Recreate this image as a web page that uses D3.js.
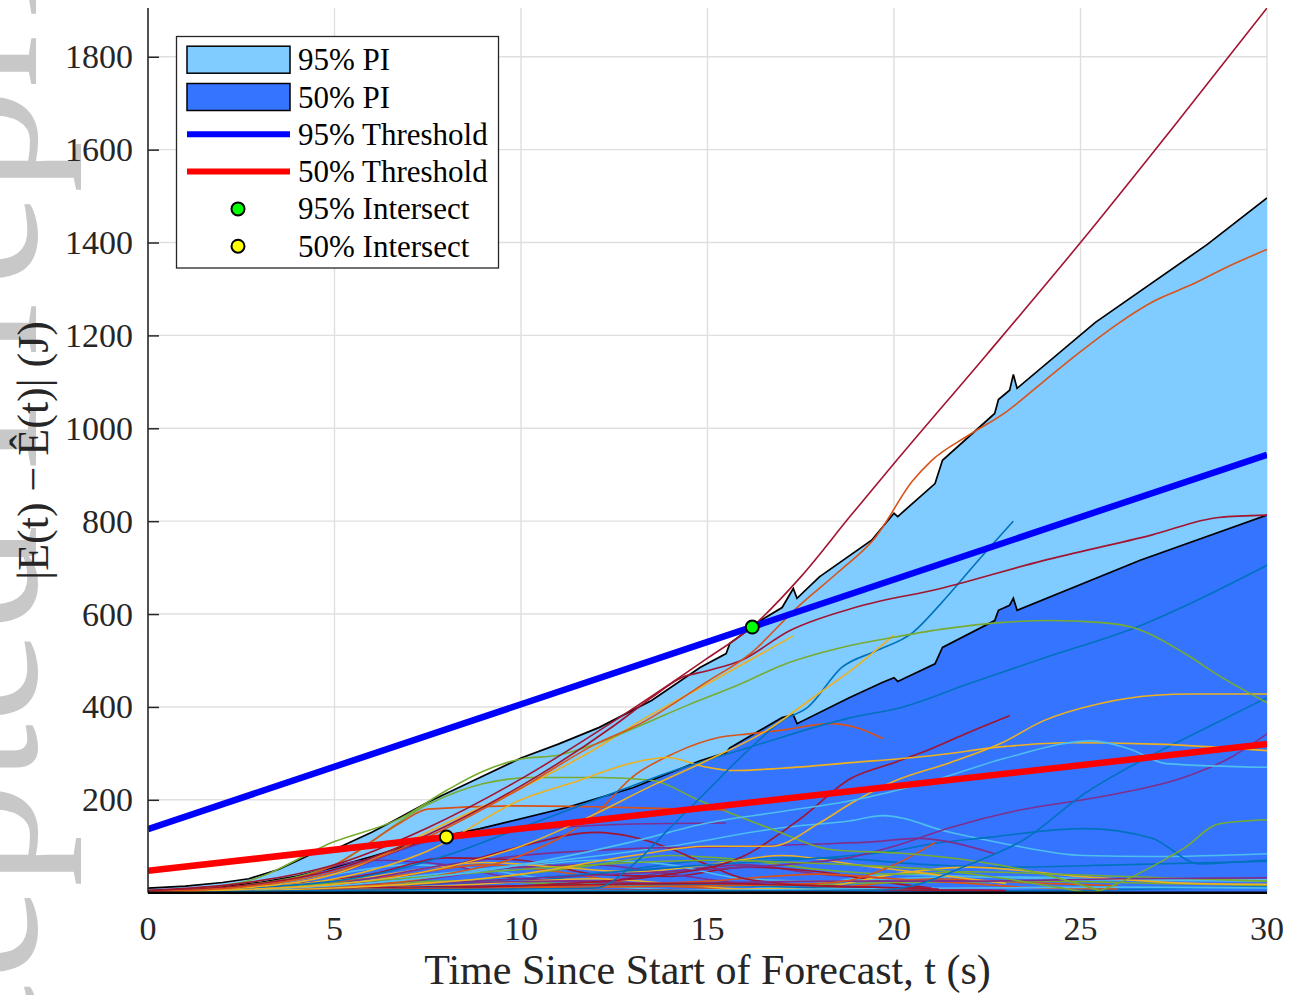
<!DOCTYPE html>
<html>
<head>
<meta charset="utf-8">
<script src="https://cdn.jsdelivr.net/npm/d3@7"></script>
<style>
  body { margin: 0; background: #fff; }
  svg { display: block; }
  text { font-family: "Liberation Serif", "Times New Roman", serif; fill: #262626; }
</style>
</head>
<body>
<script>
// ---- data ----
var xTicks = [0, 5, 10, 15, 20, 25, 30];
var yTicks = [200, 400, 600, 800, 1000, 1200, 1400, 1600, 1800];

// upper edge of the 95% prediction interval [t, J]
var pi95Upper = [[0,10],[1,14],[2,22],[2.7,30],[3.5,50],[4.4,84],[5.1,97],[6,130],[6.7,160],[7.5,195],
  [8.9,248],[10,290],[11,320],[12.1,356],[13.5,414],[14.8,485],[15.5,515],[15.6,537],[16.5,590],
  [17,614],[17.3,655],[17.4,634],[18,680],[19.4,759],[20,817],[20.1,810],[21.1,881],[21.3,931],
  [22.7,1032],[22.8,1062],[23.1,1082],[23.2,1116],[23.3,1086],[25.4,1228],[28.4,1396],[30,1496]];
// upper edge of the 50% prediction interval [t, J]
var pi50Upper = [[0,3],[1,6],[2,12],[3,22],[4,36],[5,55],[6,78],[6.8,97],[8,123],[8.9,138],[11.2,183],
  [13,226],[14.8,284],[15.5,302],[15.6,312],[17,377],[17.3,383],[17.4,364],[18.8,420],[19.7,453],
  [20,463],[20.1,455],[21.1,493],[21.3,528],[22.7,586],[22.8,608],[23.1,619],[23.2,634],[23.3,608],
  [26.6,716],[30,813]];

var threshold95 = [[0,137],[30,943]];
var threshold50 = [[0,47],[30,320]];
var intersect95 = [[16.2,572]];
var intersect50 = [[8.0,120]];

// MATLAB default colour order
var C1 = "#0072BD", C2 = "#D95319", C3 = "#EDB120", C4 = "#7E2F8E", C5 = "#77AC30", C6 = "#4DBEEE", C7 = "#A2142F";

// individual forecast error runs [t, J]
var run01 = [[0,5],[2.5,20],[5,60],[7.5,140],[10,245],[12.5,370],[15,505],[16.2,573],[17.5,680],[18.84,812],[20,924],[22.5,1160],[25,1400],[27.5,1650],[30,1905]];
var run02 = [[0,2],[2.5,12],[5,45],[7.5,120],[10,225],[12,320],[13.2,364],[15,455],[16.15,515],[17.4,614],[18.5,690],[19.5,765],[20.5,887],[21,930],[22,985],[23,1035],[24,1100],[25,1165],[26,1225],[27,1275],[28,1310],[29,1350],[30,1385]];
var run03 = [[0,4],[2.5,15],[5,50],[7.5,125],[10,230],[12.5,360],[13.5,420],[14.3,463],[15,478],[15.9,500],[17.2,564],[19,615],[21.25,655],[24,715],[26.9,770],[28.7,808],[30,813]];
var run04 = [[0,3],[2.5,22],[5,110],[6.76,160],[8,220],[9,262],[10,288],[11,296],[12,320],[13.2,360],[14.5,405],[15.9,450],[17,490],[18.6,528],[20,550],[21.25,567],[22.9,582],[24.2,586],[25.5,582],[26.4,571],[27.8,515],[28.7,468],[30,409]];
var run05 = [[0,2],[2.5,10],[5,40],[8,150],[10,225],[12,310],[13.2,370],[15,450],[17.3,553]];
var run06 = [[0,1],[5,18],[8,55],[10,100],[12,170],[13.5,230],[15,285],[16.6,350],[18,430],[18.84,478],[20,555]];
var run07 = [[0,1],[5,5],[10,8],[12,10],[13,60],[14,140],[15,220],[16,300],[17,370],[17.7,400],[18.6,485],[19.5,520],[20.5,560],[21.25,622],[22.2,710],[23.2,800]];
var run08 = [[0,2],[5,25],[8,80],[10,140],[12,200],[14,260],[16,310],[18.84,377],[20.2,399],[22,450],[24,505],[26.6,575],[28,625],[30,705]];
var run09 = [[0,1],[10,3],[15,4],[19.5,5],[20.5,15],[22,60],[23.5,115],[25.1,213],[27,300],[28.5,360],[30,420]];
var run10 = [[0,1],[5,10],[10,40],[13,80],[15,100],[16.7,100],[18,150],[18.84,192],[20,240],[21.5,280],[22.9,323],[24,370],[25.5,407],[27,425],[28,428],[30,428]];
var run11 = [[0,2],[2.5,8],[5,30],[7.5,90],[10,200],[11.5,240],[13,280],[13.9,291],[15,270],[15.7,263],[17,268],[18.84,280],[21,295],[23,315],[24.65,323],[27,320],[30,306]];
var run12 = [[0,1],[5,15],[10,60],[13,110],[15,150],[17,175],[18.84,198],[21,240],[23,290],[25.3,327],[26.3,310],[27.3,278],[30,270]];
var run13 = [[0,1],[5,20],[10,60],[14,100],[17,140],[18.84,155],[19.7,166],[21.5,130],[23,105],[25.1,80],[27,78],[30,84]];
var run14 = [[0,1],[5,10],[10,30],[15,60],[18.84,80],[20,90],[21,105],[22.4,118],[25.1,138],[26.9,118],[28.2,62],[29,65],[30,70]];
var run15 = [[0,1],[5,10],[10,30],[15,50],[17,60],[18.84,76],[20,100],[21.5,140],[23.3,177],[25.5,206],[27.8,249],[29,290],[30,342]];
var run16 = [[0,2],[5,20],[8,60],[10,80],[13,95],[16,100],[18,105],[19.5,110],[20.6,117],[22.7,84]];
var run17 = [[0,1],[5,5],[10,15],[14,40],[16,80],[17.5,160],[18.84,246],[20,280],[21,310],[22,345],[23.1,381]];
var run18 = [[0,1],[5,10],[8,40],[10,80],[12,170],[13,250],[14.1,300],[15.3,334],[16.1,342],[17,350],[18.3,364],[19,355],[19.7,332]];
var run19 = [[0,1],[10,10],[15,15],[18,20],[19,30],[20,60],[21.1,108]];
var run20 = [[0,2],[5,10],[10,15],[15,20],[18,15],[21.2,8]];
var run21 = [[0,2],[5,20],[10,50],[15,70],[18.84,60],[21,50],[23,30],[24.5,10],[25.3,1],[26,20],[27,60],[27.8,97],[28.7,148],[30,157]];
var run22 = [[0,2],[2.5,15],[5,60],[7.5,190],[9,235],[10.3,248],[12.1,248],[13.5,242],[14.8,198],[16.6,141],[18.4,92],[20.2,85],[22,70],[24,40],[25.5,5]];
var run23 = [[0,1],[2.5,10],[5,60],[6.76,150],[7.5,180],[10,187],[12,185],[13.9,181],[15.5,178]];
var run24 = [[0,1],[2.5,8],[5,40],[7.5,110],[9,125],[11,140],[13,148],[15.5,150]];
var run25 = [[0,3],[2.5,10],[5,40],[7,60],[9,50],[11,25],[13,10],[15,5],[18,20],[20,40],[22,35],[25,28],[30,25]];
var run26 = [[0,2],[3,12],[6,30],[9,20],[12,40],[15,70],[18,75],[21,60],[23,55],[26,60],[30,68]];
var run27 = [[0,4],[3,15],[6,70],[8,60],[10,30],[12,25],[14,45],[16,60],[18,40],[20,30],[22,25]];
var run28 = [[0,3],[3,12],[6,40],[8,75],[10,70],[12,40],[14,35],[16,55],[18,45],[20,20],[21,10]];
var run29 = [[0,2],[4,15],[7,40],[9,60],[11,45],[13,20],[15,10],[17,5],[19,15],[21,30],[24,20],[26,15]];
var run30 = [[0,1],[4,10],[8,25],[12,18],[16,15],[20,22],[24,25],[27,20],[30,15]];
var run31 = [[0,2],[3,8],[6,20],[9,45],[12,70],[14,60],[16,30],[18,25],[22,35],[26,30],[30,28]];
var run32 = [[0,1],[4,5],[8,15],[12,30],[14,20],[16,8],[18,12],[20,40],[22,55],[25,35],[28,20],[30,18]];
var run33 = [[0,1],[5,6],[9,12],[13,18],[16,15],[19,8],[22,3],[25,5],[28,10],[30,12]];
var run34 = [[0,2],[4,10],[7,25],[10,55],[12,60],[14,40],[16,20],[18,15],[20,10],[23,5]];
var run35 = [[0,1],[5,4],[10,8],[14,5],[17,3],[20,6],[23,4]];
var run36 = [[0,1],[3,5],[6,15],[9,30],[12,60],[14,80],[16,70],[18,50],[20,40],[22,45],[25,38],[28,30],[30,25]];
var run37 = [[0,1],[5,5],[10,12],[15,25],[18,40],[20,30],[22,20],[24,10],[26,8]];
var run38 = [[0,1],[6,4],[10,6],[14,4],[18,8],[22,10],[26,12],[30,10]];
var run39 = [[0,2],[3,12],[6,35],[9,65],[11,55],[13,45],[15,60],[17,80],[19,60],[21,40],[23,20]];
var run40 = [[0,2],[3,8],[6,25],[8,55],[10,100],[12,130],[13,120],[14,95],[15,60],[16,30],[18,15],[21,10]];
var run41 = [[0,1],[4,6],[8,20],[11,25],[14,20],[18,25],[22,25],[26,30],[30,32]];

var runs = [
  [run25, C6], [run26, C1], [run27, C4], [run28, C7], [run29, C2], [run30, C5], [run31, C6],
  [run32, C3], [run33, C1], [run34, C4], [run35, C7], [run36, C5], [run37, C2], [run38, C6],
  [run39, C3], [run40, C7], [run41, C4],
  [run13, C6], [run14, C1], [run15, C4], [run16, C4], [run17, C7], [run18, C2], [run19, C2],
  [run20, C7], [run21, C5], [run22, C5], [run23, C2], [run24, C4],
  [run09, C1], [run10, C3], [run11, C3], [run12, C6], [run08, C1], [run07, C1], [run06, C3],
  [run05, C3], [run04, C5], [run03, C7], [run02, C2], [run01, C7]
];

var legendLabels = ["95% PI", "50% PI", "95% Threshold", "50% Threshold", "95% Intersect", "50% Intersect"];

// ---- layout ----
var width = 1300, height = 995;
var padL = 148, padR = 1267, padT = 8, padB = 892.7;

var svg = d3.select("body").append("svg")
    .attr("width", width).attr("height", height);

var x = d3.scaleLinear().domain([0, 30]).range([padL, padR]);
var y = d3.scaleLinear().domain([0, 1905]).range([padB, padT]);

// watermark running up the left edge (mostly off the page)
svg.append("text")
    .attr("transform", "translate(36," + (height / 2 + 60) + ") rotate(-90)")
    .attr("text-anchor", "middle")
    .style("font-size", "210px")
    .style("fill", "#c8c8c8")
    .text("Accepted Preprint");

// grid
var grid = svg.append("g");
grid.selectAll(".gx").data(xTicks.slice(1)).enter().append("line")
    .attr("x1", function(d) { return x(d); }).attr("x2", function(d) { return x(d); })
    .attr("y1", padT).attr("y2", padB)
    .attr("stroke", "#dfdfdf").attr("stroke-width", 1.4);
grid.selectAll(".gy").data(yTicks).enter().append("line")
    .attr("x1", padL).attr("x2", padR)
    .attr("y1", function(d) { return y(d); }).attr("y2", function(d) { return y(d); })
    .attr("stroke", "#dfdfdf").attr("stroke-width", 1.4);

// axes (tick marks point inwards, MATLAB style)
var yAxis = d3.axisRight(y).tickValues(yTicks).tickSize(11).tickFormat("");
svg.append("g").attr("transform", "translate(" + padL + ",0)").call(yAxis)
    .call(function(g) { g.select(".domain").remove(); })
    .selectAll("line").attr("stroke", "#262626").attr("stroke-width", 1.5);

svg.append("g").selectAll("text").data(yTicks).enter().append("text")
    .attr("x", 133).attr("y", function(d) { return y(d) + 11.5; })
    .attr("text-anchor", "end")
    .style("font-size", "34px")
    .text(function(d) { return d; });

svg.append("g").selectAll("text").data(xTicks).enter().append("text")
    .attr("x", function(d) { return x(d); }).attr("y", 940)
    .attr("text-anchor", "middle")
    .style("font-size", "34px")
    .text(function(d) { return d; });

// prediction interval bands
svg.append("clipPath").attr("id", "plotclip").append("rect")
    .attr("x", padL).attr("y", padT).attr("width", padR - padL).attr("height", padB - padT);

var plot = svg.append("g").attr("clip-path", "url(#plotclip)");

var band = d3.area()
    .x(function(d) { return x(d[0]); })
    .y0(y(0))
    .y1(function(d) { return y(d[1]); });
var edge = d3.line()
    .x(function(d) { return x(d[0]); })
    .y(function(d) { return y(d[1]); });

plot.append("path").datum(pi95Upper).attr("d", band).attr("fill", "#80CBFF");
plot.append("path").datum(pi50Upper).attr("d", band).attr("fill", "#3574FF");
plot.append("path").datum(pi95Upper).attr("d", edge).attr("fill", "none").attr("stroke", "#000").attr("stroke-width", 1.7);
plot.append("path").datum(pi50Upper).attr("d", edge).attr("fill", "none").attr("stroke", "#000").attr("stroke-width", 1.7);

// individual runs
var smooth = d3.line()
    .curve(d3.curveMonotoneX)
    .x(function(d) { return x(d[0]); })
    .y(function(d) { return y(d[1]); });

plot.selectAll(".run").data(runs).enter().append("path")
    .attr("class", "run")
    .attr("d", function(d) { return smooth(d[0]); })
    .attr("fill", "none")
    .attr("stroke", function(d) { return d[1]; })
    .attr("stroke-width", 1.6);

// thresholds
plot.append("path").datum(threshold95).attr("d", edge).attr("fill", "none").attr("stroke", "#0000FF").attr("stroke-width", 6.5);
plot.append("path").datum(threshold50).attr("d", edge).attr("fill", "none").attr("stroke", "#FF0000").attr("stroke-width", 6.5);

// axis lines
svg.append("line").attr("x1", padL).attr("x2", padL).attr("y1", padT).attr("y2", padB)
    .attr("stroke", "#262626").attr("stroke-width", 1.6);
svg.append("line").attr("x1", padL).attr("x2", padR).attr("y1", padB).attr("y2", padB)
    .attr("stroke", "#000").attr("stroke-width", 2.6);

// intersections
svg.selectAll(".i95").data(intersect95).enter().append("circle")
    .attr("cx", function(d) { return x(d[0]); }).attr("cy", function(d) { return y(d[1]); })
    .attr("r", 6.5).attr("fill", "#00FF00").attr("stroke", "#000").attr("stroke-width", 2);
svg.selectAll(".i50").data(intersect50).enter().append("circle")
    .attr("cx", function(d) { return x(d[0]); }).attr("cy", function(d) { return y(d[1]); })
    .attr("r", 6.5).attr("fill", "#FFFF00").attr("stroke", "#000").attr("stroke-width", 2);

// axis labels
svg.append("text")
    .attr("x", (padL + padR) / 2).attr("y", 984)
    .attr("text-anchor", "middle")
    .style("font-size", "42px")
    .text("Time Since Start of Forecast, t (s)");

svg.append("text")
    .attr("transform", "translate(48," + ((padT + padB) / 2) + ") rotate(-90)")
    .attr("text-anchor", "middle")
    .style("font-size", "44px")
    .text("|E(t) \u2212 \u00CA(t)| (J)");

// legend
var lg = svg.append("g");
lg.append("rect").attr("x", 176.5).attr("y", 36.5).attr("width", 322).attr("height", 231.5)
    .attr("fill", "#fff").attr("stroke", "#262626").attr("stroke-width", 1.3);

var rowY = function(i) { return 59.7 + i * 37.3; };

lg.append("rect").attr("x", 187).attr("y", rowY(0) - 13.5).attr("width", 103).attr("height", 27)
    .attr("fill", "#80CBFF").attr("stroke", "#000").attr("stroke-width", 1.5);
lg.append("rect").attr("x", 187).attr("y", rowY(1) - 13.5).attr("width", 103).attr("height", 27)
    .attr("fill", "#3574FF").attr("stroke", "#000").attr("stroke-width", 1.5);
lg.append("line").attr("x1", 187).attr("x2", 290).attr("y1", rowY(2)).attr("y2", rowY(2))
    .attr("stroke", "#0000FF").attr("stroke-width", 6);
lg.append("line").attr("x1", 187).attr("x2", 290).attr("y1", rowY(3)).attr("y2", rowY(3))
    .attr("stroke", "#FF0000").attr("stroke-width", 6);
lg.append("circle").attr("cx", 238).attr("cy", rowY(4)).attr("r", 6.5)
    .attr("fill", "#00FF00").attr("stroke", "#000").attr("stroke-width", 2);
lg.append("circle").attr("cx", 238).attr("cy", rowY(5)).attr("r", 6.5)
    .attr("fill", "#FFFF00").attr("stroke", "#000").attr("stroke-width", 2);

lg.selectAll(".lt").data(legendLabels).enter().append("text")
    .attr("x", 298).attr("y", function(d, i) { return rowY(i) + 10.5; })
    .style("font-size", "31px")
    .style("fill", "#000")
    .text(function(d) { return d; });
</script>
</body>
</html>
